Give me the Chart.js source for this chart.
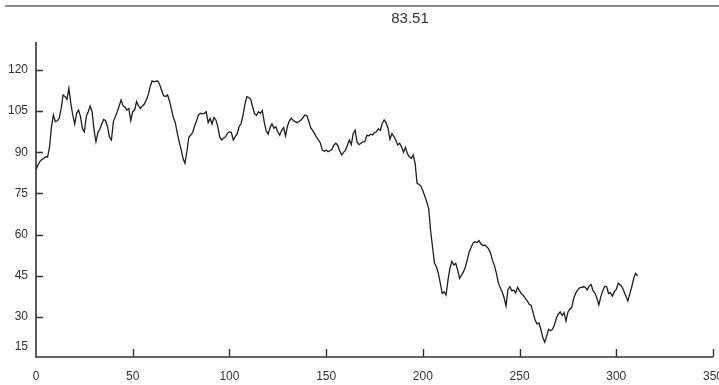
<!DOCTYPE html>
<html>
<head>
<meta charset="utf-8">
<script src="https://cdn.jsdelivr.net/npm/chart.js@4.4.1/dist/chart.umd.min.js"></script>
<style>
  html, body { margin: 0; padding: 0; background: #ffffff; }
  #wrap { width: 719px; height: 385px; position: relative; }
</style>
</head>
<body>
<div id="wrap"><canvas id="c" width="719" height="385"></canvas></div>
<script>
// Series title (first observation)
const titleText = "83.51";

// Observed values, one per step (step 0 .. 311)
const seriesValues = [
  83.51, 85.4, 86.6, 87.4, 87.8, 88.4, 88.2, 92.0, 99.3, 103.6,
  101.2, 101.5, 102.4, 106.0, 110.9, 110.3, 109.3, 113.3, 107.9, 103.6,
  100.3, 104.2, 105.4, 103.0, 98.7, 97.5, 103.0, 104.8, 106.9, 104.8,
  98.1, 93.9, 97.2, 98.4, 100.3, 102.0, 101.5, 99.3, 95.5, 94.5,
  101.2, 103.0, 104.8, 106.9, 109.1, 106.9, 106.4, 105.4, 106.0, 101.5,
  104.8, 105.4, 108.5, 106.9, 106.0, 106.9, 107.6, 109.1, 110.9, 113.9,
  116.0, 115.7, 115.9, 116.0, 114.5, 112.5, 110.6, 110.3, 110.9, 108.8,
  105.7, 102.7, 100.8, 97.2, 93.9, 91.1, 87.8, 86.0, 90.2, 95.5,
  96.3, 97.2, 99.6, 101.5, 103.6, 104.2, 104.0, 104.2, 104.8, 100.8,
  102.4, 100.3, 102.7, 101.8, 99.3, 95.5, 94.5, 95.1, 95.7, 96.9,
  97.5, 97.2, 94.5, 95.7, 96.7, 99.3, 100.5, 103.5, 107.5, 110.3,
  110.0, 109.3, 106.5, 104.0, 103.5, 104.8, 104.2, 105.2, 101.0, 97.8,
  96.6, 99.0, 100.4, 98.8, 99.3, 97.5, 96.2, 98.0, 99.0, 96.0,
  99.5, 101.5, 102.4, 101.6, 101.2, 100.8, 101.2, 101.8, 102.6, 103.6,
  103.3, 101.4, 99.0, 98.0, 96.8, 95.5, 94.5, 93.4, 90.8, 90.4,
  90.8, 90.2, 90.6, 91.1, 92.6, 93.3, 92.6, 90.6, 89.0, 90.0,
  90.8, 92.6, 94.5, 92.8, 96.9, 98.1, 93.7, 92.8, 93.3, 93.8,
  93.9, 96.2, 96.0, 96.6, 96.3, 97.2, 97.5, 98.5, 98.0, 100.5,
  101.8, 100.8, 98.7, 94.8, 96.8, 95.8, 94.5, 92.7, 93.3, 92.0,
  90.0, 91.8, 89.5, 88.4, 87.8, 89.0, 86.0, 78.8, 78.3, 77.7,
  76.0, 74.0, 72.0, 69.5, 61.5, 55.5, 49.6, 48.3, 45.9, 42.3,
  38.6, 39.2, 38.0, 43.5, 47.8, 50.2, 48.9, 49.5, 47.1, 44.0,
  45.3, 46.5, 48.3, 51.0, 53.8, 55.4, 57.0, 57.4, 57.1, 57.8,
  56.6, 56.0, 56.2, 55.6, 54.8, 53.2, 50.6, 48.8, 46.0, 42.5,
  40.6, 39.2, 37.0, 34.0, 40.0, 41.0, 39.5, 39.8, 38.8, 40.8,
  39.5, 38.4, 37.8, 36.8, 35.8, 34.6, 34.2, 31.5, 29.0, 27.5,
  27.8, 25.5, 22.5, 20.8, 23.0, 25.5, 25.0, 25.5, 27.0, 29.5,
  31.0, 31.8, 30.5, 31.6, 28.5, 31.8, 32.8, 33.5, 36.8, 38.6,
  39.8, 40.6, 40.8, 41.0, 40.8, 39.8, 41.3, 41.8, 39.6, 38.6,
  36.8, 34.4, 37.4, 39.5, 41.2, 41.0, 38.5, 38.8, 37.6, 39.2,
  40.0, 42.3, 41.7, 41.0, 39.3, 37.5, 35.8, 38.5, 41.0, 44.0,
  45.9, 45.0
];

// Axis tick values
const xTickValues = [0, 50, 100, 150, 200, 250, 300, 350];
const yTickValues = [15, 30, 45, 60, 75, 90, 105, 120];

const points = seriesValues.map((v, i) => ({ x: i, y: v }));

const FONT = '"Liberation Sans", Arial, Helvetica, sans-serif';
const INK = '#333333';

// Draws the frame rule, the boxed-off axes with inward ticks, tick labels and the title
const axesPlugin = {
  id: 'axesPlugin',
  afterDraw(chart) {
    const { ctx, chartArea: a, scales } = chart;
    const xs = scales.x, ys = scales.y;
    ctx.save();

    // thin rule across the top of the figure
    ctx.strokeStyle = '#8c8c8c';
    ctx.lineWidth = 2;
    ctx.beginPath();
    ctx.moveTo(5, 6);
    ctx.lineTo(719, 6);
    ctx.stroke();

    // axis lines
    ctx.strokeStyle = INK;
    ctx.lineWidth = 1.6;
    ctx.beginPath();
    ctx.moveTo(a.left, a.top);
    ctx.lineTo(a.left, a.bottom);
    ctx.lineTo(a.right, a.bottom);
    ctx.stroke();

    // inward tick marks
    ctx.lineWidth = 1.4;
    ctx.beginPath();
    yTickValues.forEach(v => {
      const y = Math.round(ys.getPixelForValue(v)) + 0.5;
      if (y < a.bottom - 2) { ctx.moveTo(a.left, y); ctx.lineTo(a.left + 7, y); }
    });
    xTickValues.forEach(v => {
      const x = Math.round(xs.getPixelForValue(v)) + 0.5;
      if (x > a.left + 2) { ctx.moveTo(x, a.bottom); ctx.lineTo(x, a.bottom - 8); }
    });
    ctx.stroke();

    // tick labels
    ctx.fillStyle = INK;
    ctx.font = '12px ' + FONT;
    ctx.textAlign = 'right';
    ctx.textBaseline = 'middle';
    yTickValues.forEach(v => {
      const y = Math.min(ys.getPixelForValue(v), a.bottom - 10);
      ctx.fillText(String(v), a.left - 8, y);
    });
    ctx.textAlign = 'center';
    xTickValues.forEach(v => {
      ctx.fillText(String(v), xs.getPixelForValue(v), a.bottom + 20);
    });

    // title
    ctx.font = '15px ' + FONT;
    ctx.fillText(titleText, 410, 19);
    ctx.restore();
  }
};

new Chart(document.getElementById('c'), {
  type: 'line',
  data: {
    datasets: [{
      data: points,
      borderColor: '#1e1e1e',
      borderWidth: 1.3,
      pointRadius: 0,
      fill: false,
      tension: 0
    }]
  },
  options: {
    responsive: false,
    animation: false,
    devicePixelRatio: 1,
    layout: { padding: { left: 36, top: 42, right: 6, bottom: 28 } },
    scales: {
      x: { type: 'linear', display: false, min: 0, max: 350 },
      y: { type: 'linear', display: false, min: 15.4, max: 130.2 }
    },
    plugins: {
      legend: { display: false },
      tooltip: { enabled: false },
      title: { display: false }
    }
  },
  plugins: [axesPlugin]
});
</script>
</body>
</html>
